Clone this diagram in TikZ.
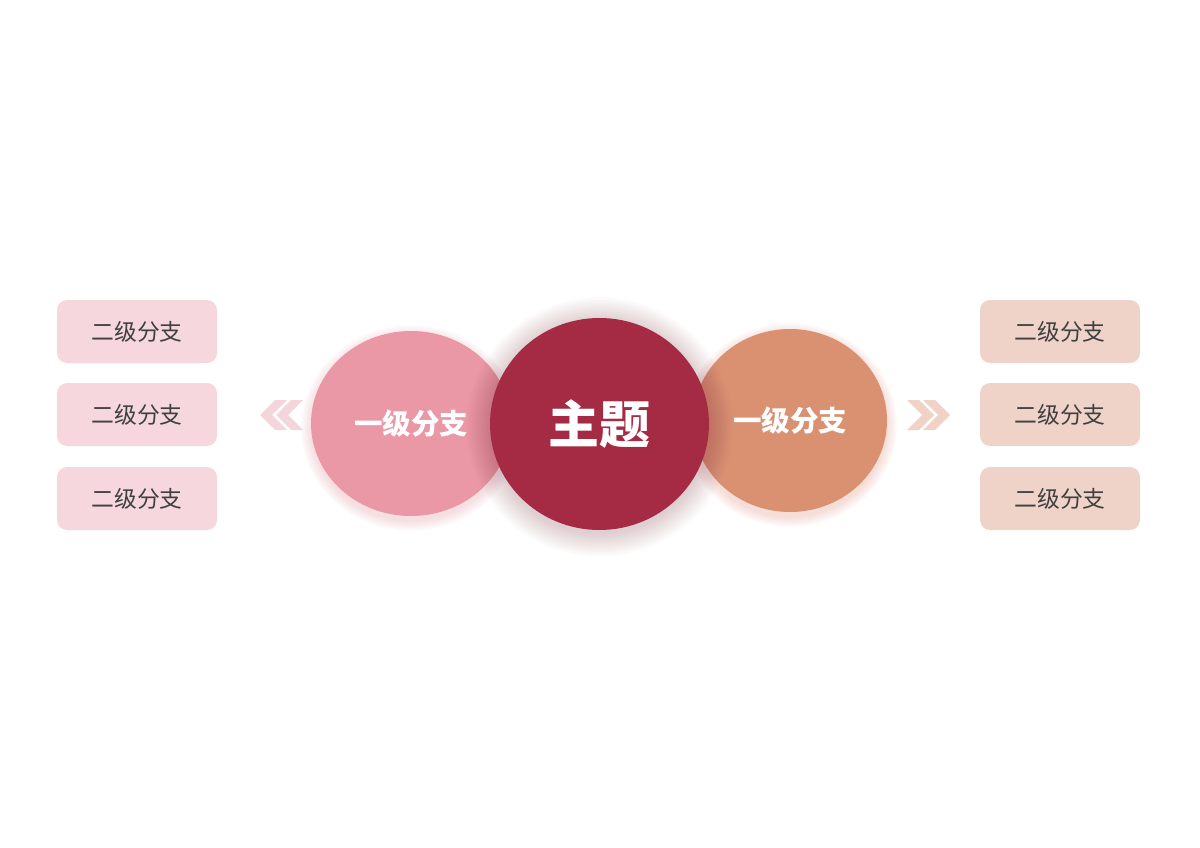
\documentclass[tikz,border=0pt]{standalone}
\usepackage{fontspec}
\usetikzlibrary{shapes.geometric}
\newfontfamily\cjk{Noto Sans CJK SC}
\definecolor{boxL}{HTML}{F7D7DE}
\definecolor{boxR}{HTML}{F0D3C8}
\definecolor{circL}{HTML}{EA97A6}
\definecolor{circC}{HTML}{A42B43}
\definecolor{circR}{HTML}{DA9172}
\definecolor{chevL}{HTML}{F5D5DC}
\definecolor{chevR}{HTML}{F0D2C6}
\definecolor{txt}{HTML}{404040}
\begin{document}
\begin{tikzpicture}[x=1pt,y=-1pt,
  leaf/.style={rounded corners=10pt,minimum width=160pt,minimum height=63pt,inner sep=0pt,
    font=\cjk\fontsize{22.8}{26}\selectfont,text=txt},
  leafL/.style={leaf,fill=boxL},
  leafR/.style={leaf,fill=boxR},
  lvl/.style={font=\cjk\bfseries\fontsize{28.5}{32}\selectfont,text=white}]
\useasboundingbox (0,0) rectangle (1200,848);
\fill[white] (0,0) rectangle (1200,848);
% shadows
\foreach \i in {1,...,10}{
  \fill[circL!80!red,opacity=0.022] (411,428) ellipse ({99+\i*1.1} and {92+\i*1.1});
  \fill[circR!80!red,opacity=0.022] (790,425) ellipse ({96+\i*1.1} and {91+\i*1.1});
}
\node[ellipse,fill=circL,minimum width=200pt,minimum height=185pt,inner sep=0pt] (L) at (411,423.5) {};
\node[ellipse,fill=circR,minimum width=194pt,minimum height=183pt,inner sep=0pt] (R) at (790,420.5) {};
\foreach \i in {1,...,16}{
  \fill[circC!70!black,opacity=0.012] (599.5,427) ellipse ({109.5+\i*1.5} and {106+\i*1.5});
}
\node[ellipse,fill=circC,minimum width=219pt,minimum height=212pt,inner sep=0pt] (C) at (599.5,424) {};
\node[lvl] at (L) {一级分支};
\node[lvl] at (R) {一级分支};
\node[font=\cjk\bfseries\fontsize{51}{55}\selectfont,text=white] at (C) {主题};
% leaves
\node[leafL] (l1) at (137,331.5) {二级分支};
\node[leafL] (l2) at (137,414.5) {二级分支};
\node[leafL] (l3) at (137,498.5) {二级分支};
\node[leafR] (r1) at (1060,331.5) {二级分支};
\node[leafR] (r2) at (1060,414.5) {二级分支};
\node[leafR] (r3) at (1060,498.5) {二级分支};
% chevrons
\foreach \dx in {0,16}{
  \fill[chevL] ({260+\dx},415) -- ({275+\dx},400) -- ({287+\dx},400) -- ({272+\dx},415) -- ({287+\dx},430) -- ({275+\dx},430) -- cycle;
  \fill[chevR] ({950-\dx},415) -- ({935-\dx},400) -- ({923-\dx},400) -- ({938-\dx},415) -- ({923-\dx},430) -- ({935-\dx},430) -- cycle;
}
\end{tikzpicture}
\end{document}
